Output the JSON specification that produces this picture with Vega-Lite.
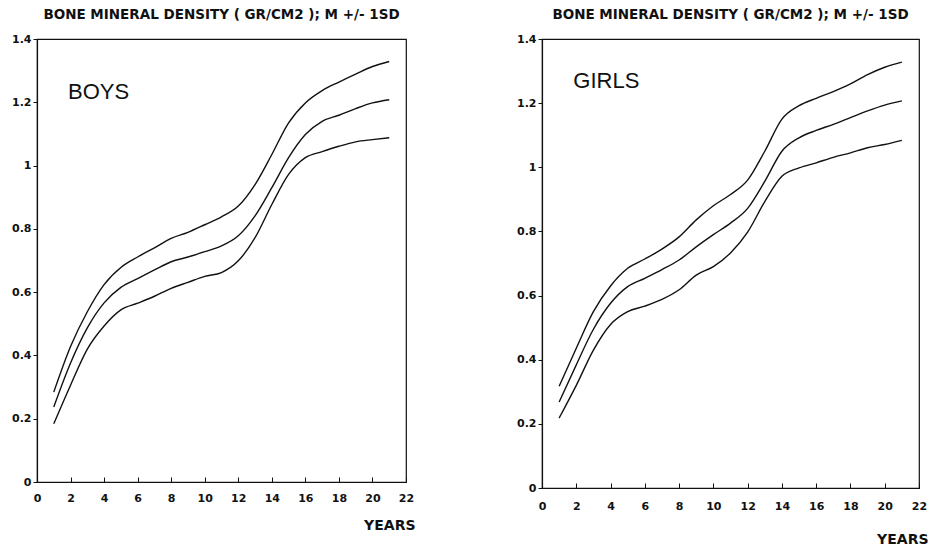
{
  "$schema": "https://vega.github.io/schema/vega-lite/v6.json",
  "padding": {"left": 10, "top": 6, "right": 4, "bottom": 4},
  "bounds": "flush",
  "spacing": 136,
  "background": "white",
  "config": {
    "font": "DejaVu Sans",
    "view": {"stroke": "#111", "strokeWidth": 1.2},
    "axis": {
      "grid": false,
      "domainColor": "#111",
      "domainWidth": 1.2,
      "tickColor": "#111",
      "labelColor": "#111",
      "labelFont": "DejaVu Sans",
      "labelFontWeight": "bold",
      "labelFontSize": 11,
      "labelFlush": false,
      "labelOverlap": false,
      "titleFont": "DejaVu Sans",
      "titleFontWeight": "bold",
      "titleColor": "#111"
    }
  },
  "datasets": {
    "bmd": [
      {"sex":"BOYS","curve":"+1SD","age":1,"bmd":0.284},
      {"sex":"BOYS","curve":"+1SD","age":2,"bmd":0.428},
      {"sex":"BOYS","curve":"+1SD","age":3,"bmd":0.538},
      {"sex":"BOYS","curve":"+1SD","age":4,"bmd":0.624},
      {"sex":"BOYS","curve":"+1SD","age":5,"bmd":0.678},
      {"sex":"BOYS","curve":"+1SD","age":6,"bmd":0.711},
      {"sex":"BOYS","curve":"+1SD","age":7,"bmd":0.740},
      {"sex":"BOYS","curve":"+1SD","age":8,"bmd":0.770},
      {"sex":"BOYS","curve":"+1SD","age":9,"bmd":0.789},
      {"sex":"BOYS","curve":"+1SD","age":10,"bmd":0.813},
      {"sex":"BOYS","curve":"+1SD","age":11,"bmd":0.838},
      {"sex":"BOYS","curve":"+1SD","age":12,"bmd":0.872},
      {"sex":"BOYS","curve":"+1SD","age":13,"bmd":0.940},
      {"sex":"BOYS","curve":"+1SD","age":14,"bmd":1.035},
      {"sex":"BOYS","curve":"+1SD","age":15,"bmd":1.135},
      {"sex":"BOYS","curve":"+1SD","age":16,"bmd":1.198},
      {"sex":"BOYS","curve":"+1SD","age":17,"bmd":1.237},
      {"sex":"BOYS","curve":"+1SD","age":18,"bmd":1.264},
      {"sex":"BOYS","curve":"+1SD","age":19,"bmd":1.289},
      {"sex":"BOYS","curve":"+1SD","age":20,"bmd":1.313},
      {"sex":"BOYS","curve":"+1SD","age":21,"bmd":1.329},
      {"sex":"BOYS","curve":"M","age":1,"bmd":0.237},
      {"sex":"BOYS","curve":"M","age":2,"bmd":0.376},
      {"sex":"BOYS","curve":"M","age":3,"bmd":0.487},
      {"sex":"BOYS","curve":"M","age":4,"bmd":0.566},
      {"sex":"BOYS","curve":"M","age":5,"bmd":0.615},
      {"sex":"BOYS","curve":"M","age":6,"bmd":0.643},
      {"sex":"BOYS","curve":"M","age":7,"bmd":0.670},
      {"sex":"BOYS","curve":"M","age":8,"bmd":0.696},
      {"sex":"BOYS","curve":"M","age":9,"bmd":0.711},
      {"sex":"BOYS","curve":"M","age":10,"bmd":0.728},
      {"sex":"BOYS","curve":"M","age":11,"bmd":0.746},
      {"sex":"BOYS","curve":"M","age":12,"bmd":0.778},
      {"sex":"BOYS","curve":"M","age":13,"bmd":0.841},
      {"sex":"BOYS","curve":"M","age":14,"bmd":0.930},
      {"sex":"BOYS","curve":"M","age":15,"bmd":1.025},
      {"sex":"BOYS","curve":"M","age":16,"bmd":1.098},
      {"sex":"BOYS","curve":"M","age":17,"bmd":1.140},
      {"sex":"BOYS","curve":"M","age":18,"bmd":1.159},
      {"sex":"BOYS","curve":"M","age":19,"bmd":1.180},
      {"sex":"BOYS","curve":"M","age":20,"bmd":1.198},
      {"sex":"BOYS","curve":"M","age":21,"bmd":1.208},
      {"sex":"BOYS","curve":"-1SD","age":1,"bmd":0.184},
      {"sex":"BOYS","curve":"-1SD","age":2,"bmd":0.306},
      {"sex":"BOYS","curve":"-1SD","age":3,"bmd":0.420},
      {"sex":"BOYS","curve":"-1SD","age":4,"bmd":0.493},
      {"sex":"BOYS","curve":"-1SD","age":5,"bmd":0.544},
      {"sex":"BOYS","curve":"-1SD","age":6,"bmd":0.565},
      {"sex":"BOYS","curve":"-1SD","age":7,"bmd":0.587},
      {"sex":"BOYS","curve":"-1SD","age":8,"bmd":0.612},
      {"sex":"BOYS","curve":"-1SD","age":9,"bmd":0.631},
      {"sex":"BOYS","curve":"-1SD","age":10,"bmd":0.650},
      {"sex":"BOYS","curve":"-1SD","age":11,"bmd":0.662},
      {"sex":"BOYS","curve":"-1SD","age":12,"bmd":0.699},
      {"sex":"BOYS","curve":"-1SD","age":13,"bmd":0.772},
      {"sex":"BOYS","curve":"-1SD","age":14,"bmd":0.877},
      {"sex":"BOYS","curve":"-1SD","age":15,"bmd":0.972},
      {"sex":"BOYS","curve":"-1SD","age":16,"bmd":1.025},
      {"sex":"BOYS","curve":"-1SD","age":17,"bmd":1.044},
      {"sex":"BOYS","curve":"-1SD","age":18,"bmd":1.061},
      {"sex":"BOYS","curve":"-1SD","age":19,"bmd":1.075},
      {"sex":"BOYS","curve":"-1SD","age":20,"bmd":1.082},
      {"sex":"BOYS","curve":"-1SD","age":21,"bmd":1.088},
      {"sex":"GIRLS","curve":"+1SD","age":1,"bmd":0.317},
      {"sex":"GIRLS","curve":"+1SD","age":2,"bmd":0.436},
      {"sex":"GIRLS","curve":"+1SD","age":3,"bmd":0.550},
      {"sex":"GIRLS","curve":"+1SD","age":4,"bmd":0.630},
      {"sex":"GIRLS","curve":"+1SD","age":5,"bmd":0.685},
      {"sex":"GIRLS","curve":"+1SD","age":6,"bmd":0.714},
      {"sex":"GIRLS","curve":"+1SD","age":7,"bmd":0.745},
      {"sex":"GIRLS","curve":"+1SD","age":8,"bmd":0.783},
      {"sex":"GIRLS","curve":"+1SD","age":9,"bmd":0.836},
      {"sex":"GIRLS","curve":"+1SD","age":10,"bmd":0.880},
      {"sex":"GIRLS","curve":"+1SD","age":11,"bmd":0.915},
      {"sex":"GIRLS","curve":"+1SD","age":12,"bmd":0.960},
      {"sex":"GIRLS","curve":"+1SD","age":13,"bmd":1.050},
      {"sex":"GIRLS","curve":"+1SD","age":14,"bmd":1.150},
      {"sex":"GIRLS","curve":"+1SD","age":15,"bmd":1.192},
      {"sex":"GIRLS","curve":"+1SD","age":16,"bmd":1.215},
      {"sex":"GIRLS","curve":"+1SD","age":17,"bmd":1.236},
      {"sex":"GIRLS","curve":"+1SD","age":18,"bmd":1.260},
      {"sex":"GIRLS","curve":"+1SD","age":19,"bmd":1.289},
      {"sex":"GIRLS","curve":"+1SD","age":20,"bmd":1.312},
      {"sex":"GIRLS","curve":"+1SD","age":21,"bmd":1.328},
      {"sex":"GIRLS","curve":"M","age":1,"bmd":0.268},
      {"sex":"GIRLS","curve":"M","age":2,"bmd":0.384},
      {"sex":"GIRLS","curve":"M","age":3,"bmd":0.495},
      {"sex":"GIRLS","curve":"M","age":4,"bmd":0.576},
      {"sex":"GIRLS","curve":"M","age":5,"bmd":0.628},
      {"sex":"GIRLS","curve":"M","age":6,"bmd":0.654},
      {"sex":"GIRLS","curve":"M","age":7,"bmd":0.681},
      {"sex":"GIRLS","curve":"M","age":8,"bmd":0.711},
      {"sex":"GIRLS","curve":"M","age":9,"bmd":0.752},
      {"sex":"GIRLS","curve":"M","age":10,"bmd":0.790},
      {"sex":"GIRLS","curve":"M","age":11,"bmd":0.826},
      {"sex":"GIRLS","curve":"M","age":12,"bmd":0.872},
      {"sex":"GIRLS","curve":"M","age":13,"bmd":0.956},
      {"sex":"GIRLS","curve":"M","age":14,"bmd":1.050},
      {"sex":"GIRLS","curve":"M","age":15,"bmd":1.092},
      {"sex":"GIRLS","curve":"M","age":16,"bmd":1.115},
      {"sex":"GIRLS","curve":"M","age":17,"bmd":1.134},
      {"sex":"GIRLS","curve":"M","age":18,"bmd":1.155},
      {"sex":"GIRLS","curve":"M","age":19,"bmd":1.176},
      {"sex":"GIRLS","curve":"M","age":20,"bmd":1.194},
      {"sex":"GIRLS","curve":"M","age":21,"bmd":1.207},
      {"sex":"GIRLS","curve":"-1SD","age":1,"bmd":0.218},
      {"sex":"GIRLS","curve":"-1SD","age":2,"bmd":0.320},
      {"sex":"GIRLS","curve":"-1SD","age":3,"bmd":0.430},
      {"sex":"GIRLS","curve":"-1SD","age":4,"bmd":0.510},
      {"sex":"GIRLS","curve":"-1SD","age":5,"bmd":0.550},
      {"sex":"GIRLS","curve":"-1SD","age":6,"bmd":0.567},
      {"sex":"GIRLS","curve":"-1SD","age":7,"bmd":0.588},
      {"sex":"GIRLS","curve":"-1SD","age":8,"bmd":0.618},
      {"sex":"GIRLS","curve":"-1SD","age":9,"bmd":0.664},
      {"sex":"GIRLS","curve":"-1SD","age":10,"bmd":0.690},
      {"sex":"GIRLS","curve":"-1SD","age":11,"bmd":0.733},
      {"sex":"GIRLS","curve":"-1SD","age":12,"bmd":0.798},
      {"sex":"GIRLS","curve":"-1SD","age":13,"bmd":0.893},
      {"sex":"GIRLS","curve":"-1SD","age":14,"bmd":0.972},
      {"sex":"GIRLS","curve":"-1SD","age":15,"bmd":0.998},
      {"sex":"GIRLS","curve":"-1SD","age":16,"bmd":1.014},
      {"sex":"GIRLS","curve":"-1SD","age":17,"bmd":1.031},
      {"sex":"GIRLS","curve":"-1SD","age":18,"bmd":1.045},
      {"sex":"GIRLS","curve":"-1SD","age":19,"bmd":1.061},
      {"sex":"GIRLS","curve":"-1SD","age":20,"bmd":1.071},
      {"sex":"GIRLS","curve":"-1SD","age":21,"bmd":1.084}
    ]
  },
  "hconcat": [
    {
      "width": 369,
      "height": 443,
      "title": {"text": "BONE MINERAL DENSITY ( GR/CM2 ); M +/- 1SD", "font": "DejaVu Sans", "fontSize": 13.5, "fontWeight": "bold", "color": "#111", "anchor": "middle", "offset": 12},
      "layer": [
        {
          "data": {"name": "bmd"},
          "transform": [{"filter": "datum.sex === 'BOYS'"}],
          "mark": {"type": "line", "interpolate": "monotone", "color": "#111", "strokeWidth": 1.4},
          "encoding": {
            "x": {"field": "age", "type": "quantitative", "scale": {"domain": [0, 22], "nice": false},
                  "axis": {"values": [0,2,4,6,8,10,12,14,16,18,20,22], "tickCount": 24, "labelOverlap": false, "tickSize": -5, "labelPadding": 15, "labelBaseline": "top",
                           "title": "YEARS", "titleFontSize": 14, "titleAnchor": "end", "titleAlign": "right", "titleBaseline": "middle", "titleX": 378, "titleY": 43}},
            "y": {"field": "bmd", "type": "quantitative", "scale": {"domain": [0, 1.4], "nice": false},
                  "axis": {"values": [0,0.2,0.4,0.6,0.8,1,1.2,1.4], "tickCount": 16, "labelOverlap": false, "format": "~g", "tickSize": 4, "labelPadding": 2, "title": null}},
            "detail": {"field": "curve"}
          }
        },
        {
          "data": {"values": [{"label": "BOYS"}]},
          "mark": {"type": "text", "align": "left", "baseline": "middle", "fontSize": 22, "font": "Liberation Sans", "color": "#111"},
          "encoding": {
            "x": {"datum": 1.85, "type": "quantitative"},
            "y": {"datum": 1.233, "type": "quantitative"},
            "text": {"field": "label"}
          }
        }
      ]
    },
    {
      "width": 377,
      "height": 449,
      "title": {"text": "BONE MINERAL DENSITY ( GR/CM2 ); M +/- 1SD", "font": "DejaVu Sans", "fontSize": 13.5, "fontWeight": "bold", "color": "#111", "anchor": "middle", "offset": 12},
      "layer": [
        {
          "data": {"name": "bmd"},
          "transform": [{"filter": "datum.sex === 'GIRLS'"}],
          "mark": {"type": "line", "interpolate": "monotone", "color": "#111", "strokeWidth": 1.4},
          "encoding": {
            "x": {"field": "age", "type": "quantitative", "scale": {"domain": [0, 22], "nice": false},
                  "axis": {"values": [0,2,4,6,8,10,12,14,16,18,20,22], "tickCount": 24, "labelOverlap": false, "tickSize": -5, "labelPadding": 17, "labelBaseline": "top",
                           "title": "YEARS", "titleFontSize": 14, "titleAnchor": "end", "titleAlign": "right", "titleBaseline": "middle", "titleX": 386, "titleY": 51}},
            "y": {"field": "bmd", "type": "quantitative", "scale": {"domain": [0, 1.4], "nice": false},
                  "axis": {"values": [0,0.2,0.4,0.6,0.8,1,1.2,1.4], "tickCount": 16, "labelOverlap": false, "format": "~g", "tickSize": 4, "labelPadding": 2, "title": null}},
            "detail": {"field": "curve"}
          }
        },
        {
          "data": {"values": [{"label": "GIRLS"}]},
          "mark": {"type": "text", "align": "left", "baseline": "middle", "fontSize": 22, "font": "Liberation Sans", "color": "#111"},
          "encoding": {
            "x": {"datum": 1.83, "type": "quantitative"},
            "y": {"datum": 1.268, "type": "quantitative"},
            "text": {"field": "label"}
          }
        }
      ]
    }
  ]
}
